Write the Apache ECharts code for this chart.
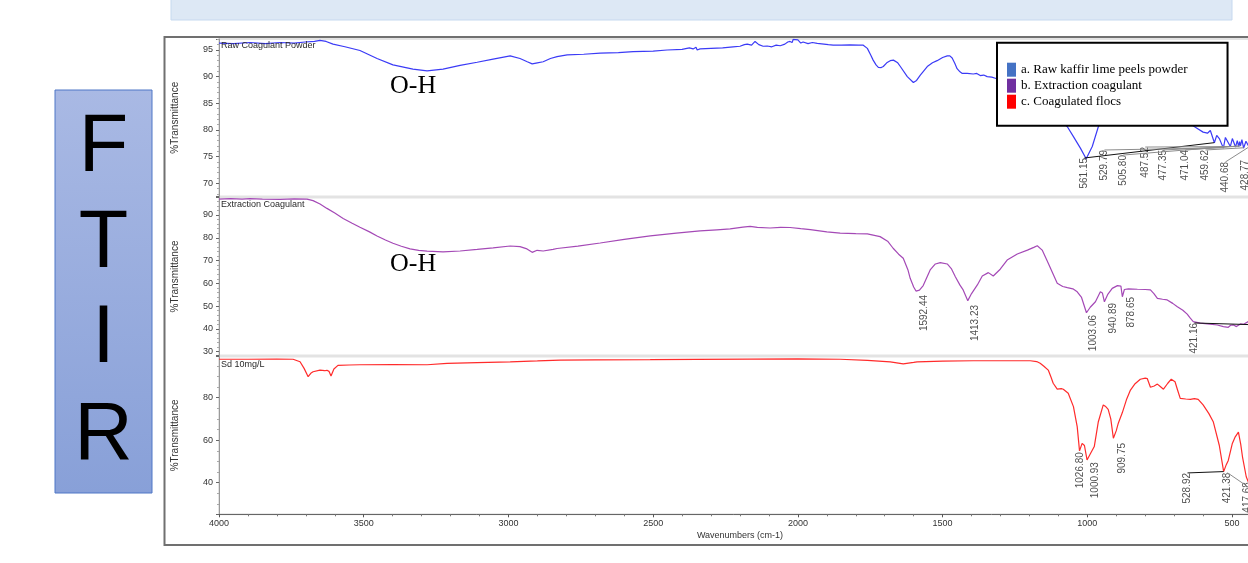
<!DOCTYPE html>
<html>
<head>
<meta charset="utf-8">
<script src="https://cdn.jsdelivr.net/npm/echarts@6/dist/echarts.min.js"></script>
<style>
html, body { margin: 0; padding: 0; background: #fff; }
#chart { width: 1248px; height: 563px; }
</style>
</head>
<body>
<div id="chart"></div>
<script>
// ---- spectra: [wavenumber (cm-1), %Transmittance] ----
const rawPowder = [
  [4000,96.3],[3950,96.2],[3893,96.4],[3840,96.2],[3789,96.4],[3740,96.3],[3703,96.5],[3670,96.6],[3651,96.8],[3630,96.6],
  [3606,96.1],[3565,95.6],[3513,94.9],[3454,93.4],[3399,92.2],[3330,91.4],[3281,91.1],[3226,91.4],[3167,92.1],[3108,92.7],
  [3053,93.3],[2994,93.9],[2960,93.4],[2935,92.8],[2918,92.4],[2900,92.6],[2880,92.8],[2855,93.4],[2832,93.75],[2797,94.1],
  [2740,94.2],[2683,94.4],[2620,94.5],[2569,94.7],[2500,94.8],[2452,95.0],[2400,95.1],[2375,95.4],[2362,95.2],[2352,95.5],
  [2348,95.0],[2338,95.2],[2300,95.3],[2260,95.4],[2224,95.6],[2200,95.7],[2185,96.0],[2175,96.1],[2160,95.9],[2148,96.6],
  [2135,96.0],[2120,95.7],[2106,95.75],[2090,95.6],[2075,95.9],[2061,95.8],[2045,96.1],[2035,96.5],[2027,96.6],[2020,96.4],
  [2016,97.0],[2010,96.7],[2000,96.9],[1990,96.3],[1982,96.5],[1965,96.2],[1950,96.4],[1933,96.25],[1910,96.1],[1895,96.0],
  [1878,95.9],[1850,95.9],[1820,95.95],[1790,95.9],[1774,95.9],[1760,95.3],[1748,94.0],[1740,93.1],[1730,92.2],[1722,91.75],
  [1712,91.7],[1705,91.9],[1693,92.6],[1681,93.0],[1670,93.1],[1664,93.0],[1655,92.6],[1646,91.9],[1622,90.0],[1601,88.9],
  [1590,89.3],[1577,90.3],[1553,91.9],[1535,92.6],[1519,93.0],[1500,93.6],[1484,93.9],[1475,93.9],[1467,93.5],[1458,92.5],
  [1450,91.5],[1440,90.9],[1432,90.6],[1415,90.6],[1394,90.5],[1382,90.6],[1370,90.2],[1358,90.3],[1346,90.0],[1330,89.9],
  [1318,89.7],[1300,89.4],[1266,88.5],[1230,87.8],[1197,87.0],[1160,85.8],[1128,84.0],[1100,82.3],[1069,80.6],[1048,78.75],
  [1024,76.6],[1004,74.6],[983,76.9],[962,80.6],[940,83.5],[921,85.0],[890,85.8],[852,86.0],[820,85.8],[782,85.0],
  [750,84.0],[713,83.0],[690,82.3],[661,81.5],[640,81.0],[620,80.3],[600,79.6],[585,79.4],[575,79.9],[561,77.6],
  [553,79.0],[544,78.4],[530,76.6],[523,78.6],[513,77.6],[506,76.9],[499,78.4],[488,76.8],[482,78.0],[477,76.9],
  [474,77.8],[471,77.0],[466,78.2],[460,76.6],[452,77.9],[441,76.8],[435,77.8],[429,77.0],[418,77.8],[402,77.5]
];

const extractionCoagulant = [
  [4000,97.0],[3960,97.2],[3920,97.0],[3893,97.2],[3850,97.0],[3789,96.9],[3740,97.1],[3696,97.0],[3675,96.3],[3651,94.8],
  [3627,92.9],[3600,90.9],[3571,88.5],[3540,86.4],[3513,84.6],[3480,82.6],[3454,80.8],[3425,79.0],[3399,77.6],[3370,76.3],
  [3340,75.1],[3310,74.5],[3281,74.1],[3226,73.8],[3167,74.2],[3108,74.9],[3053,75.6],[2994,76.4],[2960,76.1],[2936,75.1],
  [2918,73.6],[2901,74.5],[2880,74.2],[2846,74.9],[2832,75.3],[2760,76.3],[2683,77.7],[2600,79.3],[2510,80.8],[2420,82.0],
  [2338,83.0],[2280,83.5],[2234,83.9],[2190,84.7],[2165,85.0],[2140,84.6],[2096,84.3],[2060,84.6],[2027,84.5],[1990,84.0],
  [1957,83.6],[1900,82.6],[1854,82.0],[1800,81.8],[1760,81.7],[1716,80.5],[1690,78.5],[1671,75.4],[1652,72.8],[1636,71.0],
  [1620,66.0],[1612,62.2],[1600,58.4],[1592,56.6],[1580,57.0],[1567,59.0],[1543,65.9],[1525,68.5],[1508,69.1],[1484,68.5],
  [1470,66.5],[1456,62.9],[1440,59.2],[1429,57.1],[1413,52.4],[1400,55.5],[1380,59.3],[1363,63.2],[1342,64.7],[1325,63.2],
  [1301,66.2],[1277,70.2],[1242,72.9],[1207,74.6],[1185,75.8],[1173,76.5],[1156,74.6],[1135,68.8],[1104,60.0],[1085,58.6],
  [1069,58.1],[1050,57.6],[1035,56.3],[1020,53.8],[1003,47.1],[990,49.5],[972,51.9],[955,56.3],[948,55.8],[941,51.9],
  [930,55.0],[914,57.8],[896,59.0],[884,58.8],[879,54.1],[872,57.3],[858,57.6],[827,57.4],[800,57.3],[782,57.1],
  [770,55.5],[758,53.4],[740,53.0],[724,52.7],[705,51.2],[689,49.7],[670,48.2],[655,46.5],[645,44.8],[634,43.2],
  [610,42.5],[585,42.2],[551,41.7],[530,41.0],[513,40.7],[505,41.6],[496,41.8],[485,41.0],[471,42.2],[460,42.0],
  [444,43.2],[430,42.5],[421,41.8],[410,42.5],[402,43.0]
];

const coagulatedFlocs = [
  [4000,98.1],[3900,98.1],[3800,98.2],[3744,98.1],[3720,96.9],[3706,93.8],[3692,89.9],[3683,91.5],[3675,92.2],[3651,93.0],
  [3635,92.7],[3627,92.9],[3620,92.4],[3613,90.2],[3603,93.5],[3589,95.2],[3550,95.4],[3513,95.5],[3399,95.6],[3281,95.5],
  [3212,96.2],[3108,96.5],[2994,96.9],[2900,97.3],[2821,97.7],[2700,97.8],[2510,97.9],[2350,98.0],[2165,98.2],[2000,98.3],
  [1854,98.1],[1760,97.6],[1681,96.9],[1636,95.9],[1600,96.6],[1588,96.9],[1500,97.2],[1394,97.4],[1300,97.4],[1197,97.4],
  [1175,97.0],[1163,96.2],[1150,94.8],[1135,93.0],[1125,89.5],[1118,86.8],[1104,84.0],[1090,84.3],[1083,84.0],[1066,82.1],
  [1048,75.8],[1035,66.4],[1027,55.0],[1018,58.5],[1010,57.5],[1001,50.7],[990,53.5],[976,57.0],[962,68.7],[945,76.6],
  [938,76.0],[928,74.5],[919,70.0],[910,60.9],[900,64.5],[893,68.0],[879,73.0],[865,79.0],[851,83.6],[835,86.6],
  [817,88.7],[800,89.2],[793,89.0],[782,84.9],[769,85.5],[758,86.4],[748,85.3],[737,84.0],[722,86.8],[710,88.7],
  [697,87.5],[688,83.5],[679,79.7],[660,79.4],[644,79.2],[630,79.6],[617,79.2],[600,76.6],[580,72.5],[565,68.7],
  [544,57.5],[529,45.2],[520,48.5],[513,50.5],[499,58.5],[489,61.6],[478,63.8],[470,58.0],[464,52.2],[451,42.8],
  [437,38.0],[428,36.5],[421,35.8],[418,36.0],[409,38.0],[402,39.0]
];

const seriesNames = ['a. Raw kaffir lime peels powder', 'b. Extraction coagulant', 'c. Coagulated flocs'];
const panelTitles = ['Raw Coagulant Powder', 'Extraction Coagulant', 'Sd 10mg/L'];

// picked peaks (cm-1)
const rawPeaks = [561.15, 529.79, 505.80, 487.52, 477.35, 471.04, 459.62, 440.68, 428.77];
const extractionPeaks = [1592.44, 1413.23, 1003.06, 940.89, 878.65, 421.16];
const flocPeaks = [1026.80, 1000.93, 909.75, 528.92, 421.38, 417.68];

// axis ranges and tick steps
const wavenumberRange = [400, 4000];
const wavenumberStep = 500;
const transmittanceRanges = [[67.53, 97.06], [28.32, 97.68], [25.13, 99.39]];
const transmittanceSteps = [5, 10, 20];
</script>
<script>
// ---- layout: where each peak label is placed, [cm-1 at label centre, %T at label top] ----
const rawLabelSpots = [[1010,74.75],[941,76.25],[876,75.3],[800,76.8],[737,76.25],[661,76.25],[592,76.25],[523,74.0],[454,74.4]];
const extractionLabelSpots = [[1563,54.9],[1387,50.5],[979,46.1],[910,51.4],[848,54.0],[630,42.6]];
const flocLabelSpots = [[1024,54.4],[972,49.7],[879,58.7],[654,44.6],[516,44.7],[447,40.3]];

const lineColors = ['#3b3bf6', '#a449b6', '#ff2b2b'];
const legendColors = ['#4472c4', '#7030a0', '#ff0000'];
const SANS = '"Liberation Sans", Arial, sans-serif';
const SERIF = '"Liberation Serif", "Times New Roman", serif';

// %T of a spectrum at a given wavenumber (linear between neighbouring points)
function valueAt(spec, wn) {
  for (let i = 0; i < spec.length - 1; i++) {
    const a = spec[i], b = spec[i + 1];
    if (wn <= a[0] && wn >= b[0]) {
      const t = (a[0] - wn) / (a[0] - b[0]);
      return a[1] + (b[1] - a[1]) * t;
    }
  }
  return spec[spec.length - 1][1];
}

function isStep(v, step) {
  return Math.abs(v / step - Math.round(v / step)) < 1e-6;
}

const spectra = [rawPowder, extractionCoagulant, coagulatedFlocs];
const peakSets = [rawPeaks, extractionPeaks, flocPeaks];
const spotSets = [rawLabelSpots, extractionLabelSpots, flocLabelSpots];
const darkLeader = [0, 5, 3];

const chart = echarts.init(document.getElementById('chart'), null, { renderer: 'canvas' });

const gridTops = [39, 197.5, 356.5];
const gridHeights = [157.5, 158, 157.8];

const grids = gridTops.map((t, i) => ({
  left: 219, right: -13, top: t, height: gridHeights[i],
  containLabel: false, outerBoundsMode: 'none',
  show: true, borderColor: '#e3e3e3', borderWidth: 2, backgroundColor: 'transparent'
}));

const xAxes = [0, 1, 2].map(i => ({
  type: 'value', gridIndex: i,
  min: wavenumberRange[0], max: wavenumberRange[1], inverse: true,
  minInterval: wavenumberStep, maxInterval: wavenumberStep, splitNumber: 7,
  show: i === 2,
  axisLine: { show: true, onZero: false, lineStyle: { color: '#666', width: 1 } },
  axisTick: { show: true, length: 3, lineStyle: { color: '#555' } },
  minorTick: { show: true, splitNumber: 5, length: 2, lineStyle: { color: '#777' } },
  splitLine: { show: false },
  axisLabel: {
    fontSize: 9, color: '#333', fontFamily: SANS, margin: 5,
    formatter: v => (isStep(v, wavenumberStep) ? String(Math.round(v)) : '')
  },
  name: i === 2 ? 'Wavenumbers (cm-1)' : '',
  nameLocation: 'middle', nameGap: 17,
  nameTextStyle: { fontSize: 9, color: '#333', fontFamily: SANS }
}));

const yAxes = [0, 1, 2].map(i => ({
  type: 'value', gridIndex: i,
  min: transmittanceRanges[i][0], max: transmittanceRanges[i][1],
  minInterval: transmittanceSteps[i], maxInterval: transmittanceSteps[i], splitNumber: 6,
  axisLine: { show: true, onZero: false, lineStyle: { color: '#9a9a9a', width: 1 } },
  axisTick: { show: true, length: 3, lineStyle: { color: '#666' } },
  minorTick: { show: true, splitNumber: i === 2 ? 4 : 5, length: 2, lineStyle: { color: '#aaa' } },
  splitLine: { show: false },
  axisLabel: {
    fontSize: 9, color: '#333', fontFamily: SANS, margin: 6,
    formatter: v => (isStep(v, transmittanceSteps[i]) ? String(Math.round(v)) : '')
  },
  name: '%Transmittance', nameLocation: 'middle', nameGap: 39,
  nameTextStyle: { fontSize: 10, color: '#333', fontFamily: SANS }
}));

const series = [];
spectra.forEach((spec, i) => {
  series.push({
    name: seriesNames[i], type: 'line', xAxisIndex: i, yAxisIndex: i,
    data: spec, showSymbol: false, symbol: 'none', smooth: false,
    lineStyle: { color: lineColors[i], width: 1.2 },
    itemStyle: { color: lineColors[i] },
    animation: false, silent: true, z: 2
  });
});

peakSets.forEach((peaks, i) => {
  const spots = spotSets[i];
  const leaders = [];
  peaks.forEach((p, k) => {
    const s = spots[k];
    if (Math.abs(s[0] - p) > 60) {
      leaders.push([
        { coord: [s[0], s[1]], lineStyle: { color: k === darkLeader[i] ? '#111' : '#8c8c8c', width: 1 } },
        { coord: [p, valueAt(spectra[i], p)] }
      ]);
    }
  });
  series.push({
    type: 'scatter', xAxisIndex: i, yAxisIndex: i, silent: true, animation: false,
    symbolSize: 1, itemStyle: { color: 'rgba(0,0,0,0)' }, z: 3,
    data: spots.map(s => [s[0], s[1]]),
    label: {
      show: true, position: 'inside', rotate: 90, align: 'right', verticalAlign: 'middle',
      fontSize: 10, color: '#1e1e1e', fontFamily: SANS, textBorderWidth: 0,
      formatter: p => peaks[p.dataIndex].toFixed(2)
    },
    markLine: {
      silent: true, animation: false, symbol: ['none', 'none'],
      label: { show: false }, lineStyle: { type: 'solid', width: 1, color: '#8c8c8c' },
      data: leaders
    }
  });
});

const titles = panelTitles.map((t, i) => ({
  text: t, left: 221, top: [41.5, 200, 360][i], padding: 0,
  textStyle: { fontSize: 9, fontWeight: 'normal', color: '#2a2a2a', fontFamily: SANS }
}));

const ftirLetters = ['F', 'T', 'I', 'R'];
const letterY = [149, 245, 340, 437];

const graphics = [
  { type: 'rect', z: 0, shape: { x: 171, y: -2, width: 1061, height: 22 },
    style: { fill: '#dde8f5', stroke: '#c6d9ef', lineWidth: 1 } },
  { type: 'rect', z: 0, shape: { x: 55, y: 90, width: 97, height: 403 },
    style: {
      fill: new echarts.graphic.LinearGradient(0, 0, 0, 1, [
        { offset: 0, color: '#a9b9e4' }, { offset: 1, color: '#88a0d8' }
      ]),
      stroke: '#4f77c6', lineWidth: 1
    } },
  { type: 'rect', z: 20, shape: { x: 164.5, y: 37, width: 1100, height: 508 },
    style: { fill: 'none', stroke: '#707070', lineWidth: 2 } }
];
ftirLetters.forEach((ch, k) => {
  graphics.push({
    type: 'text', z: 5, x: 103.5, y: letterY[k],
    style: { text: ch, fill: '#000', fontSize: 81, fontFamily: SANS,
      align: 'center', verticalAlign: 'middle', textAlign: 'center', textVerticalAlign: 'middle' }
  });
});
[86, 264].forEach(y => {
  graphics.push({
    type: 'text', z: 5, x: 390, y: y,
    style: { text: 'O-H', fill: '#000', fontSize: 26, fontFamily: SERIF,
      align: 'left', verticalAlign: 'middle', textAlign: 'left', textVerticalAlign: 'middle' }
  });
});

chart.setOption({
  animation: false,
  textStyle: { fontFamily: SANS },
  title: titles,
  grid: grids,
  xAxis: xAxes,
  yAxis: yAxes,
  legend: {
    orient: 'vertical', left: 997, top: 42.7,
    padding: [20, 40, 17, 10], itemWidth: 9, itemHeight: 14, itemGap: 2, icon: 'rect',
    backgroundColor: '#fff', borderColor: '#000', borderWidth: 2, borderRadius: 0,
    selectedMode: false, z: 10,
    textStyle: { fontFamily: SERIF, fontSize: 13, color: '#000' },
    data: seriesNames.map((n, i) => ({ name: n, itemStyle: { color: legendColors[i] } }))
  },
  graphic: graphics,
  series: series
});
</script>
</body>
</html>
